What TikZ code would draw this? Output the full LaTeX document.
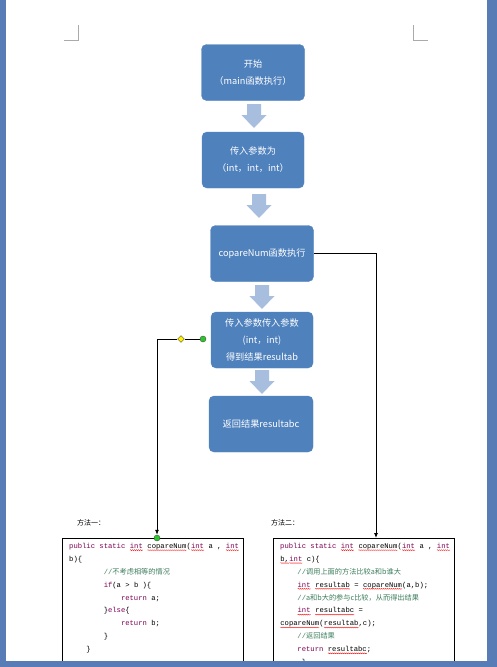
\documentclass[tikz,border=0pt]{standalone}
\usepackage{fontspec}
\usetikzlibrary{arrows.meta,positioning,shapes.geometric,decorations.pathmorphing}
\setmainfont{Noto Sans CJK SC}
\newfontfamily\cjk{Noto Sans CJK SC}
\newfontfamily\codefont{Liberation Mono}
\definecolor{bg}{RGB}{88,124,182}
\definecolor{bx}{RGB}{79,129,189}
\definecolor{ar}{RGB}{168,190,222}
\definecolor{kw}{RGB}{127,0,85}
\definecolor{cm}{RGB}{63,127,95}
\definecolor{gd}{RGB}{40,200,40}
\definecolor{mk}{RGB}{170,170,170}
\newcommand{\KW}[1]{\textcolor{kw}{#1}}
\newcommand{\CM}[1]{\textcolor{cm}{//{\cjk #1}}}
\newcommand{\SQC}[2]{\tikz[baseline=(w.base)]{\node[inner sep=0pt,outer sep=0pt,text=#1] (w) {#2};
  \draw[red,line width=0.35pt,decorate,decoration={snake,amplitude=0.45pt,segment length=2pt}]
    ([yshift=-1.7pt]w.base west) -- ([yshift=-1.7pt]w.base east);}}
\newcommand{\SQ}[1]{\SQC{kw}{#1}}
\newcommand{\SQB}[1]{\SQC{black}{#1}}
\newcommand{\IN}[1]{\hspace*{#1\dimexpr 4.32pt\relax}}
\tikzset{
  stepbox/.style={draw=bx,fill=bx,rounded corners=5pt,minimum width=102pt,minimum height=56pt,
    align=center,text=white,font=\fontsize{9.2}{17}\selectfont,inner sep=0pt},
  blockarrow/.pic={\fill[ar] (-7,0) -- (7,0) -- (7,11) -- (12.5,11) -- (0,24) -- (-12.5,11) -- (-7,11) -- cycle;},
  codebox/.style={draw,line width=0.8pt,minimum width=181pt,minimum height=140pt,anchor=north west,inner sep=0pt},
  codetext/.style={anchor=north west,align=left,inner sep=0pt,font=\codefont\fontsize{7.2}{12.9}\selectfont},
  conn/.style={-{Latex[length=5pt,width=4pt]},line width=0.8pt},
  dot/.style={circle,fill=gd,draw=black!70,line width=0.4pt,minimum size=6pt,inner sep=0pt},
}

\begin{document}
\begin{tikzpicture}[x=1pt,y=-1pt]
  % page and frame
  \useasboundingbox (0,0) rectangle (497,667);
  \fill[white] (0,0) rectangle (497,667);

  % corner marks
  \draw[mk,line width=0.6pt] (64,40) -- (78,40) -- (78,25);
  \draw[mk,line width=0.6pt] (413,25) -- (413,40) -- (428,40);

  % flow boxes
  \node[stepbox,minimum width=103pt] (s1) at (253,72.5) {开始\\（main函数执行）};
  \node[stepbox] (s2) at (253,160) {传入参数为\\（int，int，int）};
  \node[stepbox,minimum width=103pt] (s3) at (262,253.5) {copareNum函数执行};
  \node[stepbox] (s4) at (262,340) {传入参数传入参数\\(int，int)\\得到结果resultab};
  \node[stepbox,minimum width=104pt] (s5) at (261,424) {返回结果resultabc};

  % block arrows
  \pic at (254,104) {blockarrow};
  \pic at (259,194) {blockarrow};
  \pic at (262,285) {blockarrow};
  \pic at (262,370) {blockarrow};

  % code boxes
  \node[font=\fontsize{7}{8}\selectfont,anchor=west,inner sep=0pt] (l1) at (77,523) {方法一：};
  \node[font=\fontsize{7}{8}\selectfont,anchor=west,inner sep=0pt] (l2) at (271,523) {方法二：};
  \node[codebox] (c1) at (62,538) {};
  \node[codebox] (c2) at (273,538) {};

  \node[codetext] (t1) at (69,543) {%
    \KW{public static} \SQ{int} \SQB{copareNum}(\SQ{int} a , \SQ{int}\\
    b)\{\\
    \IN{8}\CM{不考虑相等的情况}\\
    \IN{8}\KW{if}(a > b )\{\\
    \IN{12}\KW{return} a;\\
    \IN{8}\}\KW{else}\{\\
    \IN{12}\KW{return} b;\\
    \IN{8}\}\\
    \IN{4}\}};
  \node[codetext] (t2) at (280,543) {%
    \KW{public static} \SQ{int} \SQB{copareNum}(\SQ{int} a , \SQ{int}\\
    \SQB{b,}\SQ{int} c)\{\\
    \IN{4}\CM{调用上面的方法比较a和b谁大}\\
    \IN{4}\SQ{int} \SQB{resultab} = \SQB{copareNum}(a,b);\\
    \IN{4}\CM{a和b大的参与c比较，从而得出结果}\\
    \IN{4}\SQ{int} \SQB{resultabc} =\\
    \SQB{copareNum}(\SQB{resultab},c);\\
    \IN{4}\CM{返回结果}\\
    \IN{4}\KW{return} \SQB{resultabc};\\
    \IN{5}\}};

  % connectors
  \coordinate (in2) at (376,538);
  \draw[conn] (s3.east) -| (in2);

  \node[dot] (g1) at (203,339) {};
  \node[diamond,fill=yellow,draw=black!70,line width=0.4pt,minimum size=7pt,inner sep=0pt] (d1) at (181,339) {};
  \node[dot] (g2) at (157,538) {};
  \draw[line width=0.8pt] (g1.west) -- (d1.east);
  \draw[conn] (d1.west) -| (g2.north);

  % window frame
  \fill[bg] (0,0) rectangle (6,667);
  \fill[bg] (487,0) rectangle (497,667);
  \fill[bg] (0,661) rectangle (497,667);
\end{tikzpicture}
\end{document}
